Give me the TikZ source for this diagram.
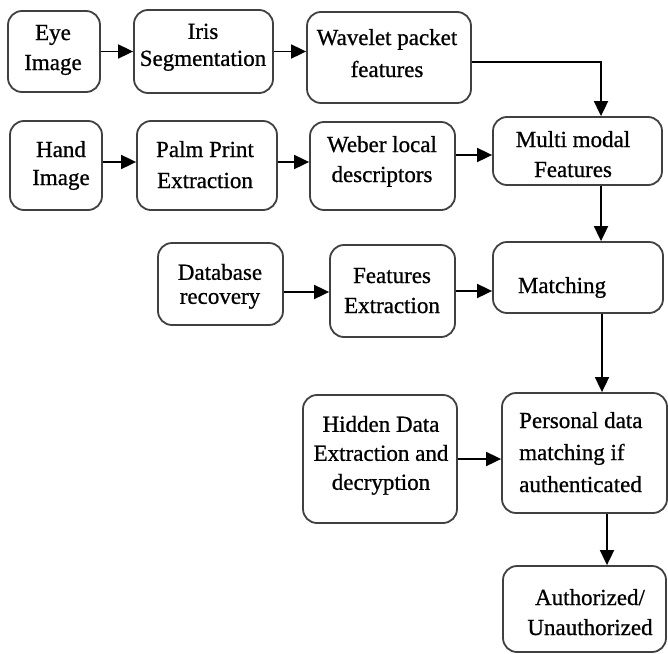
\documentclass[tikz,border=0pt]{standalone}
\usepackage{fontspec}
\setmainfont{LiberationSerif}[Extension=.ttf, UprightFont=*-Regular, BoldFont=*-Bold,
  UprightFeatures={FakeBold=0.8}]
\usetikzlibrary{arrows.meta}
% font size 23pt with a per-node line spacing
\newcommand\sk[1]{\fontsize{23}{#1}\selectfont}
\tikzset{
  blk/.style={draw=black!75, line width=1.8pt, rounded corners=14pt, inner sep=0pt},
  lbl/.style={align=center, inner sep=0pt, text=black},
  arr/.style={draw=black, line width=1.8pt, -{Triangle[length=15pt,width=14pt]}},
}
\begin{document}
\begin{tikzpicture}[x=1pt, y=-1pt]
\useasboundingbox (0,0) rectangle (668,653);

% ---- boxes ----
\node[blk, minimum width=92pt,  minimum height=81pt]  (eye)   at (54,51.5)   {};
\node[blk, minimum width=139pt, minimum height=83pt]  (iris)  at (203.5,51.5){};
\node[blk, minimum width=164pt, minimum height=91pt]  (wave)  at (389,57.5)  {};
\node[blk, minimum width=92pt,  minimum height=89pt]  (hand)  at (56,165.5)  {};
\node[blk, minimum width=140pt, minimum height=89pt]  (palm)  at (207,165.5) {};
\node[blk, minimum width=145pt, minimum height=88pt]  (weber) at (382.5,166) {};
\node[blk, minimum width=169pt, minimum height=68pt]  (multi) at (577.5,151) {};
\node[blk, minimum width=125pt, minimum height=82pt]  (db)    at (220.5,284) {};
\node[blk, minimum width=125pt, minimum height=92pt]  (fext)  at (392.5,291) {};
\node[blk, minimum width=170pt, minimum height=71pt]  (match) at (578,277.5) {};
\node[blk, minimum width=154pt, minimum height=128pt] (hidden) at (380,459)  {};
\node[blk, minimum width=165pt, minimum height=120pt] (pers)  at (584.5,453) {};
\node[blk, minimum width=163pt, minimum height=86pt]  (auth)  at (584.5,609) {};

% ---- labels ----
\node[lbl, font=\sk{30}] (eyet)   at (53,49)     {\strut Eye\\\strut Image};
\node[lbl, font=\sk{27}] (irist)  at (203,47)    {\strut Iris\\\strut Segmentation};
\node[lbl, font=\sk{32}] (wavet)  at (387,54.6)  {\strut Wavelet packet\\\strut features};
\node[lbl, font=\sk{28}] (handt)  at (61,165.4)  {\strut Hand\\\strut Image};
\node[lbl, font=\sk{31}] (palmt)  at (205,166.3) {\strut Palm Print\\\strut Extraction};
\node[lbl, font=\sk{30}] (webert) at (382,161)   {\strut Weber local\\\strut descriptors};
\node[lbl, font=\sk{30}] (multit) at (573,156)   {\strut Multi modal\\\strut Features};
\node[lbl, font=\sk{24}] (dbt)    at (220,287)   {\strut Database\\\strut recovery};
\node[lbl, font=\sk{30}] (fextt)  at (392,292)   {\strut Features\\\strut Extraction};
\node[lbl, font=\sk{30}] (matcht) at (562,287)   {\strut Matching};
\node[lbl, font=\sk{29}] (hiddent) at (381,455)  {\strut Hidden Data\\\strut Extraction and\\\strut decryption};
\node[lbl, font=\sk{32}, align=left, anchor=west] (perst) at (519,453.6)
  {\strut Personal data\\\strut matching if\\\strut authenticated};
\node[lbl, font=\sk{30}] (autht)  at (590,614)   {\strut Authorized/\\\strut Unauthorized};

% ---- connectors ----
\draw[arr] (eye.east) -- (eye.east -| iris.west);
\draw[arr] (iris.east) -- (iris.east -| wave.west);
\draw[arr] ([yshift=3.5pt]hand.east) -- ([yshift=3.5pt]hand.east -| palm.west);
\draw[arr] ([yshift=3.5pt]palm.east) -- ([yshift=3.5pt]palm.east -| weber.west);
\draw[arr] ([yshift=11pt]weber.east) -- ([yshift=11pt]weber.east -| multi.west);
\draw[arr] ([yshift=-4.5pt]wave.east) -| ([xshift=23.5pt]multi.north);
\draw[arr] ([xshift=23.5pt]multi.south) -- ([xshift=23.5pt]multi.south |- match.north);
\draw[arr] ([yshift=-8pt]db.east) -- ([yshift=-8pt]db.east -| fext.west);
\draw[arr] (fext.east) -- (fext.east -| match.west);
\draw[arr] ([xshift=24pt]match.south) -- ([xshift=24pt]match.south |- pers.north);
\draw[arr] (hidden.east) -- (hidden.east -| pers.west);
\draw[arr] ([xshift=22.5pt]pers.south) -- ([xshift=22.5pt]pers.south |- auth.north);
\end{tikzpicture}
\end{document}
